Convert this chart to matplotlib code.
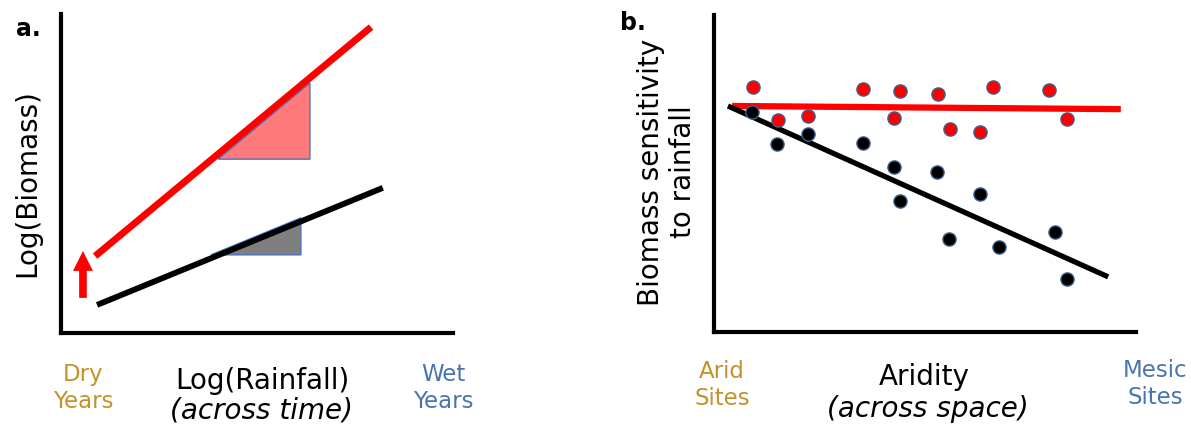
import numpy as np
import matplotlib
matplotlib.use("Agg")
import matplotlib.pyplot as plt
from matplotlib.patches import Polygon, FancyArrowPatch

# ---- panel a: conceptual lines (log rainfall vs log biomass), axis units 0..10
wet_line_x = [0.87, 7.91]
wet_line_y = [2.41, 9.59]
dry_line_x = [0.92, 8.21]
dry_line_y = [0.88, 4.55]
shift_arrow_x = 0.56
shift_arrow_y = [1.10, 2.57]
red_tri_x = [4.01, 6.35, 6.35]
red_tri_y = [5.45, 7.84, 5.45]
grey_tri_x = [3.83, 6.12, 6.12]
grey_tri_y = [2.45, 3.61, 2.45]

# ---- panel b: sensitivity vs aridity, axis units 0..10
red_x = [0.92, 1.52, 2.23, 3.53, 4.41, 4.27, 5.31, 5.59, 6.30, 6.61, 7.94, 8.36]
red_y = [7.73, 6.69, 6.81, 7.67, 7.60, 6.75, 7.51, 6.40, 6.31, 7.73, 7.63, 6.72]
black_x = [0.90, 1.49, 2.23, 3.53, 4.27, 5.28, 4.41, 6.30, 5.57, 6.75, 8.08, 8.36]
black_y = [6.94, 5.93, 6.25, 5.96, 5.21, 5.05, 4.13, 4.35, 2.93, 2.68, 3.15, 1.67]
red_fit_x = [0.43, 9.64]
red_fit_y = [7.13, 7.03]
black_fit_x = [0.33, 9.34]
black_fit_y = [7.13, 1.74]

W, H = 1191, 425
GOLD = "#c4922c"
BLUE = "#4a74b0"

fig = plt.figure(figsize=(W / 100, H / 100), dpi=100)


def px(x, y):
    # pixel position -> figure fraction
    return x / W, 1 - y / H


def setup(ax):
    ax.set_xlim(0, 10)
    ax.set_ylim(0, 10)
    ax.set_xticks([])
    ax.set_yticks([])
    for s in ["top", "right"]:
        ax.spines[s].set_visible(False)
    for s in ["left", "bottom"]:
        ax.spines[s].set_linewidth(3)
        ax.spines[s].set_capstyle("projecting")
    ax.patch.set_alpha(0)


# panel a
ax1 = fig.add_axes([61 / W, 1 - 333 / H, 392 / W, 319 / H])
setup(ax1)
ax1.add_patch(Polygon(np.column_stack([red_tri_x, red_tri_y]), closed=True,
                      facecolor="#ff7b7b", edgecolor="#4a72c0", lw=1, zorder=1))
ax1.add_patch(Polygon(np.column_stack([grey_tri_x, grey_tri_y]), closed=True,
                      facecolor="#7f7f7f", edgecolor="#4a72c0", lw=1, zorder=1))
ax1.plot(wet_line_x, wet_line_y, color="#ff0000", lw=5, solid_capstyle="butt", zorder=2)
ax1.plot(dry_line_x, dry_line_y, color="black", lw=4.2, solid_capstyle="butt", zorder=2)
ax1.add_patch(FancyArrowPatch((shift_arrow_x, shift_arrow_y[0]),
                              (shift_arrow_x, shift_arrow_y[1]),
                              arrowstyle="simple,head_length=1.3,head_width=1.3,tail_width=0.5",
                              mutation_scale=11, color="#ff0000", lw=0,
                              shrinkA=0, shrinkB=0, clip_on=False))

# panel b
ax2 = fig.add_axes([714 / W, 1 - 332 / H, 422 / W, 317 / H])
setup(ax2)
ax2.plot(red_fit_x, red_fit_y, color="#ff0000", lw=4.5, solid_capstyle="butt", zorder=2)
ax2.plot(black_fit_x, black_fit_y, color="black", lw=3.8, solid_capstyle="butt", zorder=2)
ax2.scatter(red_x, red_y, s=90, color="#ff0000", edgecolors="#3d5f8f", linewidths=1, zorder=3)
ax2.scatter(black_x, black_y, s=90, color="black", edgecolors="#3d5f8f", linewidths=1, zorder=3)

# labels
main = 20
side = 16.5
fig.text(*px(28, 29), "a.", fontsize=17, fontweight="bold", ha="center", va="center")
fig.text(*px(27, 183), "Log(Biomass)", fontsize=main, rotation=90, ha="center", va="center")
fig.text(*px(83, 388), "Dry\nYears", fontsize=side, color=GOLD, ha="center", va="center",
         multialignment="center")
fig.text(*px(262, 381), "Log(Rainfall)", fontsize=main, ha="center", va="center")
fig.text(*px(261, 410), "(across time)", fontsize=main, style="italic", ha="center", va="center")
fig.text(*px(443, 388), "Wet\nYears", fontsize=side, color=BLUE, ha="center", va="center",
         multialignment="center")

fig.text(*px(633, 23), "b.", fontsize=17, fontweight="bold", ha="center", va="center")
fig.text(*px(667, 172), "Biomass sensitivity\nto rainfall", fontsize=main, rotation=90,
         ha="center", va="center", multialignment="center")
fig.text(*px(722, 385), "Arid\nSites", fontsize=side, color=GOLD, ha="center", va="center",
         multialignment="center")
fig.text(*px(924, 377), "Aridity", fontsize=main, ha="center", va="center")
fig.text(*px(928, 409), "(across space)", fontsize=main, style="italic", ha="center", va="center")
fig.text(*px(1155, 384), "Mesic\nSites", fontsize=side, color=BLUE, ha="center", va="center",
         multialignment="center")

fig.savefig("out.png", dpi=100)
